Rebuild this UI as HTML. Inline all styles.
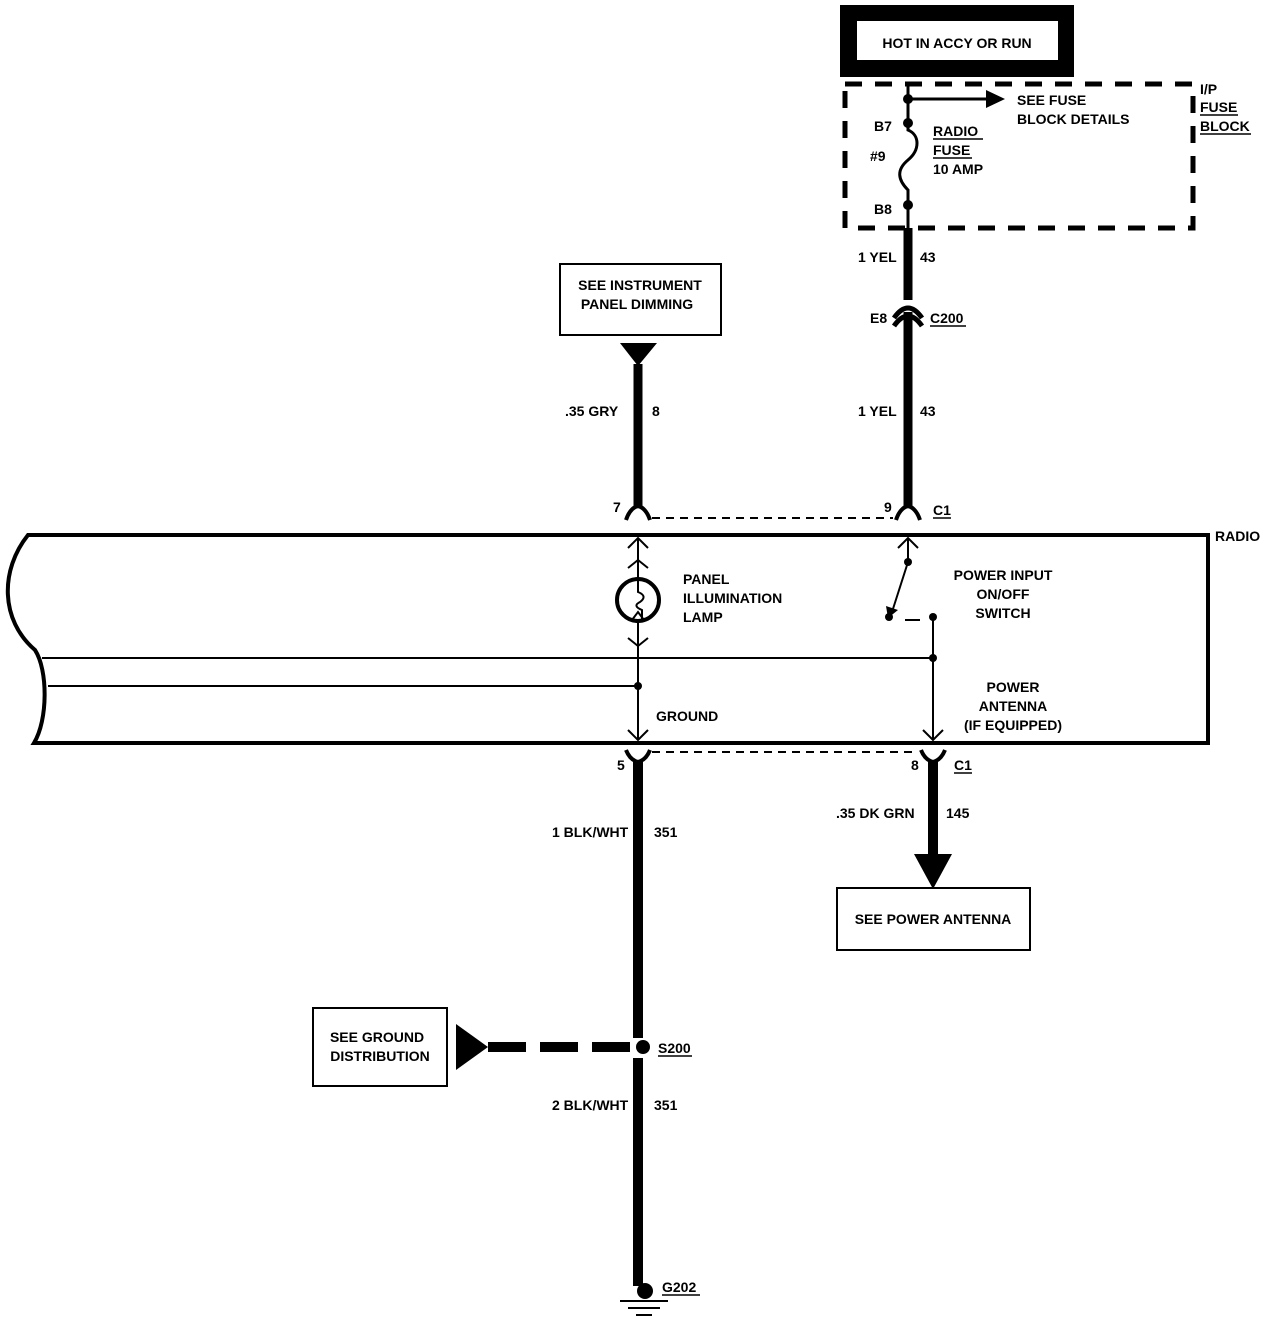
<!DOCTYPE html>
<html><head><meta charset="utf-8"><style>
html,body{margin:0;padding:0;background:#fff;}
svg{display:block;}
text{font-family:"Liberation Sans",sans-serif;font-weight:bold;font-size:14px;fill:#000;}
</style></head><body>
<svg width="1280" height="1324" viewBox="0 0 1280 1324" xmlns="http://www.w3.org/2000/svg">
<!-- HOT box -->
<rect x="840" y="5" width="234" height="72" fill="#000"/>
<rect x="857" y="21" width="201" height="39" fill="#fff"/>
<text x="957" y="48" text-anchor="middle">HOT IN ACCY OR RUN</text>
<!-- dashed fuse block -->
<rect x="845" y="84" width="348" height="144" fill="none" stroke="#000" stroke-width="5" stroke-dasharray="17,13"/>
<text x="1200" y="94" font-size="13">I/P</text>
<text x="1200" y="112">FUSE</text>
<text x="1200" y="131">BLOCK</text>
<line x1="1200" y1="134" x2="1251" y2="134" stroke="#000" stroke-width="1.5"/>
<line x1="1200" y1="115" x2="1238" y2="115" stroke="#000" stroke-width="1.5"/>
<!-- fuse wire -->
<path d="M908 84 V130 C920 135 920 150 908 160 C896 170 898 180 908 190 V228" fill="none" stroke="#000" stroke-width="3"/>
<circle cx="908" cy="99" r="5"/><circle cx="908" cy="123" r="5"/><circle cx="908" cy="205" r="5"/>
<line x1="908" y1="99" x2="990" y2="99" stroke="#000" stroke-width="3"/>
<polygon points="986,90 1005,99 986,108"/>
<text x="1017" y="105">SEE FUSE</text>
<text x="1017" y="124">BLOCK DETAILS</text>
<text x="874" y="131">B7</text>
<text x="870" y="161">#9</text>
<text x="874" y="214">B8</text>
<text x="933" y="136">RADIO</text>
<line x1="933" y1="139" x2="983" y2="139" stroke="#000" stroke-width="1.5"/>
<text x="933" y="155">FUSE</text>
<line x1="933" y1="158" x2="972" y2="158" stroke="#000" stroke-width="1.5"/>
<text x="933" y="174">10 AMP</text>
<!-- yel wire -->
<line x1="908" y1="228" x2="908" y2="300" stroke="#000" stroke-width="9"/>
<path d="M894 318 Q908 298 922 318" fill="none" stroke="#000" stroke-width="5"/>
<path d="M894 326 Q908 306 922 326" fill="none" stroke="#000" stroke-width="5"/>
<line x1="908" y1="312" x2="908" y2="506" stroke="#000" stroke-width="9"/>
<text x="858" y="262">1 YEL</text><text x="920" y="262">43</text>
<text x="870" y="323">E8</text><text x="930" y="323">C200</text>
<line x1="930" y1="326" x2="966" y2="326" stroke="#000" stroke-width="1.5"/>
<text x="858" y="416">1 YEL</text><text x="920" y="416">43</text>
<path d="M896 520 Q900 508 908 506 Q916 508 920 520" fill="none" stroke="#000" stroke-width="4"/>
<text x="884" y="512">9</text><text x="933" y="515">C1</text>
<line x1="933" y1="518" x2="951" y2="518" stroke="#000" stroke-width="1.5"/>
<!-- dimming box -->
<rect x="560" y="264" width="161" height="71" fill="none" stroke="#000" stroke-width="2"/>
<text x="640" y="290" text-anchor="middle">SEE INSTRUMENT</text>
<text x="637" y="309" text-anchor="middle">PANEL DIMMING</text>
<polygon points="620,343 657,343 638,366"/>
<line x1="638" y1="364" x2="638" y2="506" stroke="#000" stroke-width="9"/>
<text x="565" y="416">.35 GRY</text><text x="652" y="416">8</text>
<path d="M626 520 Q630 508 638 506 Q646 508 650 520" fill="none" stroke="#000" stroke-width="4"/>
<text x="613" y="512">7</text>
<line x1="652" y1="518" x2="893" y2="518" stroke="#000" stroke-width="2" stroke-dasharray="8,6"/>
<!-- radio box -->
<path d="M1208 535 H28 C0 570 0 620 35 650 C48 670 48 720 34 743 H1208 Z" fill="none" stroke="#000" stroke-width="4"/>
<text x="1215" y="541">RADIO</text>
<line x1="42" y1="658" x2="933" y2="658" stroke="#000" stroke-width="2"/>
<line x1="48" y1="686" x2="638" y2="686" stroke="#000" stroke-width="2"/>
<!-- lamp -->
<path d="M628 548 L638 538 L648 548 M638 538 V580 M628 568 L638 560 L648 568" fill="none" stroke="#000" stroke-width="2"/>
<circle cx="638" cy="600" r="21" fill="none" stroke="#000" stroke-width="4"/>
<path d="M638 580 V592 Q648 596 640 602 Q632 606 642 610 V620 M632 620 L638 612 L644 620" fill="none" stroke="#000" stroke-width="2"/>
<path d="M628 638 L638 646 L648 638 M638 621 V740 M628 730 L638 740 L648 730" fill="none" stroke="#000" stroke-width="2"/>
<circle cx="638" cy="686" r="4"/>
<text x="683" y="584">PANEL</text>
<text x="683" y="603">ILLUMINATION</text>
<text x="683" y="622">LAMP</text>
<text x="656" y="721">GROUND</text>
<!-- switch -->
<path d="M898 548 L908 538 L918 548 M908 538 V562 L892 612" fill="none" stroke="#000" stroke-width="2"/>
<circle cx="908" cy="562" r="4"/>
<polygon points="886,606 898,610 888,618"/>
<circle cx="889" cy="617" r="4"/>
<line x1="905" y1="620" x2="920" y2="620" stroke="#000" stroke-width="2"/>
<circle cx="933" cy="617" r="4"/>
<path d="M933 617 V740 M923 730 L933 740 L943 730" fill="none" stroke="#000" stroke-width="2"/>
<circle cx="933" cy="658" r="4"/>
<text x="1003" y="580" text-anchor="middle">POWER INPUT</text>
<text x="1003" y="599" text-anchor="middle">ON/OFF</text>
<text x="1003" y="618" text-anchor="middle">SWITCH</text>
<text x="1013" y="692" text-anchor="middle">POWER</text>
<text x="1013" y="711" text-anchor="middle">ANTENNA</text>
<text x="1013" y="730" text-anchor="middle">(IF EQUIPPED)</text>
<!-- bottom connectors -->
<path d="M626 750 Q630 760 638 762 Q646 760 650 750" fill="none" stroke="#000" stroke-width="4"/>
<path d="M921 750 Q925 760 933 762 Q941 760 945 750" fill="none" stroke="#000" stroke-width="4"/>
<line x1="652" y1="752" x2="918" y2="752" stroke="#000" stroke-width="2" stroke-dasharray="8,6"/>
<text x="617" y="770">5</text><text x="911" y="770">8</text>
<text x="954" y="770">C1</text>
<line x1="954" y1="773" x2="972" y2="773" stroke="#000" stroke-width="1.5"/>
<line x1="638" y1="760" x2="638" y2="1038" stroke="#000" stroke-width="10"/>
<line x1="638" y1="1058" x2="638" y2="1286" stroke="#000" stroke-width="10"/>
<text x="552" y="837">1 BLK/WHT</text><text x="654" y="837">351</text>
<text x="552" y="1110">2 BLK/WHT</text><text x="654" y="1110">351</text>
<line x1="933" y1="760" x2="933" y2="858" stroke="#000" stroke-width="10"/>
<polygon points="914,854 952,854 933,889"/>
<text x="836" y="818">.35 DK GRN</text><text x="946" y="818">145</text>
<rect x="837" y="888" width="193" height="62" fill="none" stroke="#000" stroke-width="2"/>
<text x="933" y="924" text-anchor="middle">SEE POWER ANTENNA</text>
<!-- ground distribution -->
<rect x="313" y="1008" width="134" height="78" fill="none" stroke="#000" stroke-width="2"/>
<text x="377" y="1042" text-anchor="middle">SEE GROUND</text>
<text x="380" y="1061" text-anchor="middle">DISTRIBUTION</text>
<polygon points="456,1024 488,1047 456,1070"/>
<line x1="488" y1="1047" x2="630" y2="1047" stroke="#000" stroke-width="10" stroke-dasharray="38,14"/>
<circle cx="643" cy="1047" r="7"/>
<text x="658" y="1053">S200</text>
<line x1="658" y1="1056" x2="692" y2="1056" stroke="#000" stroke-width="1.5"/>
<!-- G202 -->
<circle cx="645" cy="1291" r="8"/>
<line x1="620" y1="1301" x2="668" y2="1301" stroke="#000" stroke-width="2"/>
<line x1="628" y1="1308" x2="660" y2="1308" stroke="#000" stroke-width="2"/>
<line x1="636" y1="1315" x2="652" y2="1315" stroke="#000" stroke-width="2"/>
<text x="662" y="1292">G202</text>
<line x1="662" y1="1295" x2="700" y2="1295" stroke="#000" stroke-width="1.5"/>
</svg>
</body></html>
